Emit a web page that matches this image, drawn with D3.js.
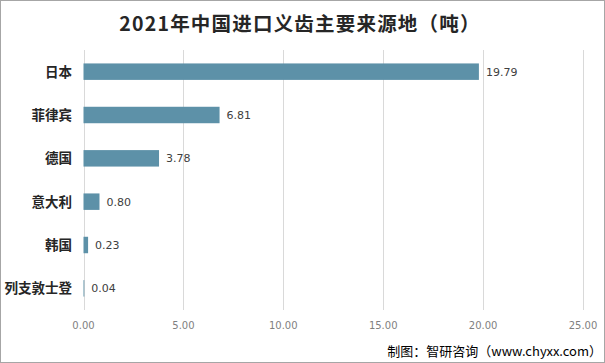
<!DOCTYPE html>
<html><head><meta charset="utf-8">
<script src="https://cdn.jsdelivr.net/npm/d3@7"></script>
<style>body{margin:0;background:#fff}svg{display:block}</style>
</head><body>
<script>
const categories = ["日本","菲律宾","德国","意大利","韩国","列支敦士登"];
const values = [19.79, 6.81, 3.78, 0.80, 0.23, 0.04];
const tickValues = [0,5,10,15,20,25];
const title = "2021年中国进口义齿主要来源地（吨）";
const source = "制图：智研咨询（www.chyxx.com）";

const W=605,H=363;
const svg=d3.select("body").append("svg").attr("width",W).attr("height",H);
svg.append("rect").attr("x",0.5).attr("y",0.5).attr("width",W-1).attr("height",H-1).attr("fill","#fff").attr("stroke","#a6a6a6");
const x=d3.scaleLinear().domain([0,25]).range([83.5,583]);
const y=d3.scaleBand().domain(categories).range([50,310]).paddingInner(0.62).paddingOuter(0.31);
const fontCJK='"Noto Sans CJK SC","Noto Sans",sans-serif';
svg.append("g").selectAll("line").data(tickValues).join("line")
 .attr("x1",d=>Math.round(x(d))+0.5).attr("x2",d=>Math.round(x(d))+0.5).attr("y1",50).attr("y2",310)
 .attr("stroke","#d9d9d9").attr("stroke-width",1);
svg.append("g").selectAll("text").data(tickValues).join("text")
 .attr("x",d=>x(d)).attr("y",329).attr("text-anchor","middle").attr("font-family","'DejaVu Sans',sans-serif")
 .attr("font-size",10).attr("fill","#7f7f7f").text(d=>d.toFixed(2));
svg.append("g").selectAll("rect").data(values).join("rect")
 .attr("x",x(0)).attr("y",(d,i)=>y(categories[i])).attr("width",d=>x(d)-x(0)).attr("height",y.bandwidth())
 .attr("fill","#5d91a8");
svg.append("g").selectAll("text").data(values).join("text")
 .attr("x",d=>x(d)+7).attr("y",(d,i)=>y(categories[i])+y.bandwidth()/2+4)
 .attr("font-family","'DejaVu Sans',sans-serif").attr("font-size",11).attr("fill","#404040").text(d=>d.toFixed(2));
svg.append("g").selectAll("text").data(categories).join("text")
 .attr("x",72).attr("y",d=>y(d)+y.bandwidth()/2+5).attr("text-anchor","end")
 .attr("font-family",fontCJK).attr("font-weight","bold").attr("font-size",13.5).attr("fill","#262626").text(d=>d);
svg.append("text").attr("x",300).attr("y",31).attr("text-anchor","middle").attr("font-family",fontCJK)
 .attr("font-weight","bold").attr("font-size",19.5).attr("letter-spacing",1.2).attr("fill","#262626").text(title);
svg.append("text").attr("x",602).attr("y",356).attr("text-anchor","end").attr("font-family",fontCJK)
 .attr("font-size",13).attr("fill","#000").text(source);
</script>
</body></html>
